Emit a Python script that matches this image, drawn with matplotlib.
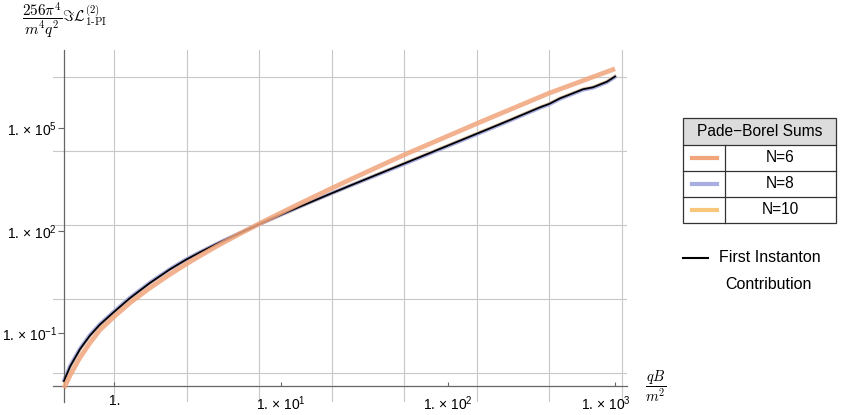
import numpy as np
import matplotlib
matplotlib.use("Agg")
import matplotlib.pyplot as plt
from matplotlib.patches import Rectangle
from matplotlib.lines import Line2D
from matplotlib.transforms import ScaledTranslation

plt.rcParams["font.family"] = ["Liberation Sans", "DejaVu Sans"]
plt.rcParams["mathtext.fontset"] = "custom"
plt.rcParams["mathtext.rm"] = "Liberation Sans"
plt.rcParams["mathtext.it"] = "Liberation Sans:italic"
plt.rcParams["mathtext.bf"] = "Liberation Sans:bold"

# log10 of qB/m^2 and log10 of the plotted quantity
inst_x_exp = np.array([-0.301, -0.265, -0.205, -0.146, -0.086, 0.0, 0.094, 0.214,
                       0.334, 0.430, 0.514, 0.615, 0.753, 0.867, 0.993, 1.113,
                       1.292, 1.412, 1.736, 1.952, 2.251, 2.371, 2.551, 2.605,
                       2.671, 2.748, 2.808, 2.868, 2.952, 3.0])
inst_y_exp = np.array([-2.396, -1.975, -1.462, -1.067, -0.745, -0.368, 0.030, 0.475,
                       0.873, 1.154, 1.371, 1.619, 1.935, 2.187, 2.456, 2.708,
                       3.077, 3.320, 3.966, 4.399, 4.999, 5.242, 5.614, 5.711,
                       5.877, 6.024, 6.141, 6.199, 6.363, 6.515])
n8_y_exp = np.array([-2.370, -1.950, -1.440, -1.045, -0.725, -0.350, 0.048, 0.490,
                     0.885, 1.164, 1.378, 1.622, 1.935, 2.187, 2.456, 2.708,
                     3.077, 3.315, 3.950, 4.383, 4.982, 5.225, 5.597, 5.694,
                     5.860, 6.007, 6.124, 6.182, 6.346, 6.498])
n10_y_exp = np.array([-2.396, -1.975, -1.462, -1.067, -0.745, -0.368, 0.030, 0.475,
                      0.873, 1.154, 1.371, 1.619, 1.935, 2.187, 2.456, 2.708,
                      3.077, 3.320, 3.966, 4.399, 4.999, 5.242, 5.614, 5.711,
                      5.877, 6.024, 6.141, 6.199, 6.363, 6.515])

n6_x_exp = np.array([-0.301, -0.265, -0.205, -0.146, -0.086, 0.0, 0.094, 0.214,
                     0.334, 0.430, 0.514, 0.615, 0.753, 0.867, 0.993, 1.113,
                     1.292, 1.412, 1.736, 2.191, 2.605, 3.0])
n6_y_exp = np.array([-2.601, -2.235, -1.708, -1.284, -0.903, -0.508, -0.110, 0.329,
                     0.727, 1.022, 1.268, 1.552, 1.915, 2.205, 2.512, 2.799,
                     3.220, 3.495, 4.221, 5.178, 6.027, 6.741])

x_ticks = [1, 10, 100, 1000]
x_tick_labels = ["1.", r"1. × 10$^{1}$", r"1. × 10$^{2}$", r"1. × 10$^{3}$"]
y_ticks = [1e-1, 1e2, 1e5]
y_tick_labels = [r"1. × 10$^{-1}$", r"1. × 10$^{2}$", r"1. × 10$^{5}$"]

legend_labels = ["N=6", "N=8", "N=10"]
legend_colors = ["#F2A57B", "#A9AEE2", "#F8C77C"]

W, H = 846, 415
fig = plt.figure(figsize=(W / 100, H / 100), dpi=100)


def fx(px):
    return px / W


def fy(py):
    return 1 - py / H


ax = fig.add_axes([fx(53), fy(402), (627 - 53) / W, (402 - 50) / H])
ax.set_xscale("log")
ax.set_yscale("log")
ax.set_xlim(10 ** -0.367, 10 ** 3.072)
ax.set_ylim(10 ** -3.011, 10 ** 7.291)

# grid lines sit at powers of e
for k in range(0, 8):
    ax.axvline(np.exp(k), color="#C8C8C8", lw=0.8, zorder=0)
for k in [-5, 0, 5, 10, 15]:
    ax.axhline(np.exp(k), color="#C8C8C8", lw=0.8, zorder=0)

x_inst = 10.0 ** inst_x_exp
ax.plot(x_inst, 10.0 ** n10_y_exp, color=legend_colors[2], lw=2.6, zorder=2)
ax.plot(x_inst, 10.0 ** n8_y_exp, color=legend_colors[1], lw=2.6, zorder=2)
ax.plot(x_inst, 10.0 ** inst_y_exp, color="black", lw=1.3, zorder=3)
ax.plot(10.0 ** n6_x_exp, 10.0 ** n6_y_exp, color=legend_colors[0], lw=3.4,
        alpha=0.85, solid_capstyle="butt", zorder=4)

for s in ["top", "right"]:
    ax.spines[s].set_visible(False)
ax.spines["left"].set_position(("data", 0.5))
ax.spines["bottom"].set_position(("data", 10 ** -2.54))
for s in ["left", "bottom"]:
    ax.spines[s].set_color("#666666")
    ax.spines[s].set_linewidth(0.9)

ax.set_xticks(x_ticks)
ax.set_xticklabels(x_tick_labels)
ax.set_yticks(y_ticks)
ax.set_yticklabels(y_tick_labels)
ax.minorticks_off()
ax.tick_params(axis="x", direction="in", length=3, width=0.8, color="#666666",
               labelsize=10, pad=6)
ax.tick_params(axis="y", direction="out", length=4, width=0.8, color="#666666",
               labelsize=10, pad=1)
last = ax.get_xticklabels()[-1]
last.set_transform(last.get_transform() + ScaledTranslation(-0.09, 0, fig.dpi_scale_trans))

fig.text(fx(64), fy(20), r"$\dfrac{256\pi^4}{m^4q^2}\Im\mathcal{L}^{(2)}_{\mathrm{1\text{-}PI}}$",
         math_fontfamily="cm", fontsize=11, ha="center", va="center")
fig.text(fx(656), fy(386), r"$\dfrac{qB}{m^2}$", math_fontfamily="cm",
         fontsize=10.5, ha="center", va="center")

# legend table
left, right, top, bottom = 683, 836, 118, 223
col = 725
rows = [145, 171, 197]
fig.patches.append(Rectangle((fx(left), fy(rows[0])), (right - left) / W,
                             (rows[0] - top) / H, transform=fig.transFigure,
                             facecolor="#DCDCDC", edgecolor="none"))
fig.patches.append(Rectangle((fx(left), fy(bottom)), (right - left) / W,
                             (bottom - top) / H, transform=fig.transFigure,
                             facecolor="none", edgecolor="#333333", lw=0.9))
for r in rows:
    fig.lines.append(Line2D([fx(left), fx(right)], [fy(r), fy(r)],
                            transform=fig.transFigure, color="#333333", lw=0.9))
fig.lines.append(Line2D([fx(col), fx(col)], [fy(rows[0]), fy(bottom)],
                        transform=fig.transFigure, color="#333333", lw=0.9))
fig.text(fx((left + right) / 2), fy(131.5), "Pade\u2212Borel Sums", fontsize=11.2,
         ha="center", va="center")
centers = [158, 184, 210]
for lab, c, yc in zip(legend_labels, legend_colors, centers):
    fig.lines.append(Line2D([fx(692), fx(717)], [fy(yc), fy(yc)],
                            transform=fig.transFigure, color=c, lw=3))
    fig.text(fx((col + right) / 2), fy(yc), lab, fontsize=11.2, ha="center", va="center")

fig.lines.append(Line2D([fx(683), fx(708)], [fy(257.7), fy(257.7)],
                        transform=fig.transFigure, color="black", lw=1.5))
fig.text(fx(719), fy(257.7), "First Instanton", fontsize=11.5, ha="left", va="center")
fig.text(fx(768), fy(284), "Contribution", fontsize=11.5, ha="center", va="center")

fig.savefig("out.png", dpi=100, facecolor="white")
